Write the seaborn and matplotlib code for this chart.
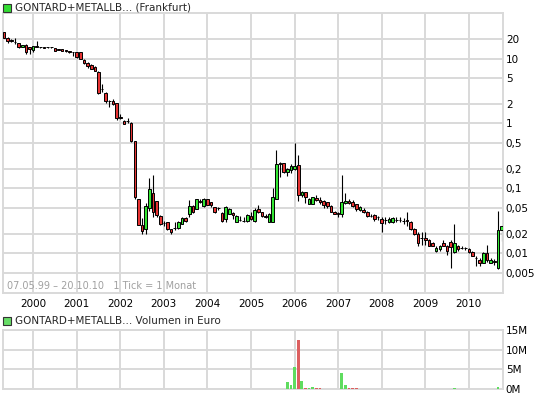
import numpy as np
import pandas as pd
import seaborn as sns
import matplotlib.pyplot as plt
from matplotlib.patches import Rectangle
from matplotlib.ticker import FixedLocator, NullLocator

# monthly candles, May 1999 (index 0) .. Oct 2010 (index 137)
opens = [25.4, 20.9, 19.6, 17.9, 17.4, 15.1, 16.3, 15.0, 13.5, 15.8,
         14.9, 14.8, 15.0, 15.1, 14.4, 13.8, 13.8, 13.3, 13.0, 12.6,
         12.5, 12.5, 9.6, 8.6, 8.0, 7.3, 6.3, 3.45, 2.9, 2.25,
         2.2, 2.08, 1.25, 1.11, 1.1, 1.02, 0.53, 0.069, 0.0277, 0.0235,
         0.05, 0.086, 0.063, 0.038, 0.0295, 0.0305, 0.0235, 0.025, 0.025, 0.0287,
         0.0355, 0.041, 0.054, 0.049, 0.063, 0.054, 0.069, 0.061, 0.051, 0.05,
         0.042, 0.034, 0.041, 0.042, 0.031, 0.033, 0.032, 0.032, 0.038, 0.032,
         0.048, 0.043, 0.038, 0.031, 0.031, 0.069, 0.234, 0.245, 0.18, 0.193,
         0.2, 0.228, 0.079, 0.087, 0.058, 0.058, 0.072, 0.067, 0.065, 0.061,
         0.054, 0.044, 0.0412, 0.041, 0.06, 0.065, 0.061, 0.057, 0.047, 0.047,
         0.044, 0.0382, 0.039, 0.0362, 0.034, 0.0332, 0.030, 0.030, 0.0332, 0.0325,
         0.032, 0.0322, 0.031, 0.024, 0.020, 0.0172, 0.0175, 0.016, 0.0145, 0.011,
         0.0115, 0.0145, 0.013, 0.0152, 0.0104, 0.013, 0.0123, 0.0122, 0.0115, 0.0106,
         0.0086, 0.008, 0.0071, 0.0101, 0.0071, 0.0076, 0.006, 0.023]
closes = [21.0, 18.3, 18.4, 17.7, 15.1, 16.2, 12.6, 13.8, 15.5, 15.0,
          14.8, 14.7, 14.9, 14.9, 13.2, 13.7, 13.1, 12.9, 12.6, 12.4,
          10.4, 9.9, 8.4, 7.7, 6.9, 6.5, 2.9, 3.4, 2.2, 2.2,
          2.0, 1.2, 1.22, 0.99, 1.09, 0.53, 0.073, 0.0277, 0.0224, 0.053,
          0.099, 0.043, 0.0394, 0.0287, 0.029, 0.0235, 0.021, 0.0248, 0.031, 0.0346,
          0.032, 0.054, 0.043, 0.069, 0.0625, 0.069, 0.056, 0.056, 0.043, 0.0495,
          0.032, 0.052, 0.049, 0.039, 0.038, 0.0328, 0.0318, 0.039, 0.034, 0.047,
          0.044, 0.038, 0.036, 0.041, 0.075, 0.234, 0.25, 0.18, 0.198, 0.218,
          0.225, 0.079, 0.087, 0.074, 0.070, 0.073, 0.067, 0.061, 0.056, 0.054,
          0.044, 0.041, 0.041, 0.061, 0.065, 0.059, 0.054, 0.048, 0.052, 0.043,
          0.038, 0.038, 0.034, 0.036, 0.029, 0.033, 0.034, 0.035, 0.033, 0.0322,
          0.0318, 0.032, 0.024, 0.020, 0.0145, 0.0171, 0.016, 0.0132, 0.0132, 0.0122,
          0.013, 0.0132, 0.011, 0.0125, 0.0145, 0.0115, 0.0122, 0.0121, 0.0104, 0.0092,
          0.0085, 0.0071, 0.0101, 0.008, 0.008, 0.0075, 0.023, 0.0266]
highs = [26.0, 21.2, 19.8, 20.5, 17.6, 16.4, 16.5, 15.3, 15.8, 18.3,
         15.2, 15.0, 15.2, 15.3, 14.6, 14.0, 14.0, 13.5, 13.1, 12.8,
         12.6, 12.6, 9.7, 8.8, 8.1, 7.8, 6.4, 4.1, 3.0, 2.3,
         2.35, 2.1, 1.4, 1.12, 1.2, 1.04, 0.54, 0.07, 0.035, 0.06,
         0.144, 0.163, 0.065, 0.039, 0.032, 0.031, 0.024, 0.03, 0.032, 0.036,
         0.036, 0.066, 0.055, 0.07, 0.07, 0.072, 0.07, 0.062, 0.052, 0.051,
         0.043, 0.053, 0.05, 0.043, 0.039, 0.038, 0.036, 0.04, 0.044, 0.05,
         0.055, 0.044, 0.04, 0.042, 0.1, 0.394, 0.26, 0.25, 0.21, 0.24,
         0.498, 0.333, 0.09, 0.089, 0.072, 0.074, 0.08, 0.075, 0.066, 0.062,
         0.055, 0.045, 0.043, 0.16, 0.085, 0.07, 0.066, 0.058, 0.053, 0.05,
         0.045, 0.04, 0.04, 0.038, 0.036, 0.036, 0.036, 0.037, 0.036, 0.037,
         0.035, 0.044, 0.032, 0.025, 0.021, 0.021, 0.021, 0.0165, 0.015, 0.013,
         0.0135, 0.016, 0.0135, 0.016, 0.028, 0.0135, 0.0128, 0.0125, 0.012, 0.011,
         0.009, 0.0085, 0.0105, 0.0135, 0.0085, 0.0082, 0.045, 0.027]
lows = [20.5, 17.4, 18.0, 17.0, 14.6, 15.0, 11.8, 11.7, 12.8, 14.8,
        14.6, 14.5, 14.7, 14.7, 13.0, 13.5, 13.0, 12.6, 12.2, 11.0,
        10.3, 9.8, 8.3, 7.2, 6.8, 6.4, 2.8, 3.0, 2.1, 1.8,
        1.95, 1.15, 1.18, 0.97, 1.0, 0.52, 0.07, 0.027, 0.020, 0.020,
        0.045, 0.037, 0.037, 0.027, 0.026, 0.023, 0.020, 0.023, 0.024, 0.028,
        0.031, 0.036, 0.042, 0.048, 0.06, 0.052, 0.055, 0.052, 0.042, 0.046,
        0.031, 0.031, 0.04, 0.034, 0.03, 0.032, 0.031, 0.031, 0.033, 0.031,
        0.042, 0.037, 0.035, 0.030, 0.030, 0.068, 0.15, 0.17, 0.155, 0.17,
        0.19, 0.065, 0.075, 0.06, 0.057, 0.057, 0.063, 0.057, 0.05, 0.05,
        0.043, 0.040, 0.037, 0.037, 0.058, 0.057, 0.052, 0.045, 0.045, 0.042,
        0.037, 0.036, 0.032, 0.033, 0.021, 0.028, 0.029, 0.029, 0.03, 0.03,
        0.028, 0.026, 0.023, 0.019, 0.013, 0.0135, 0.0135, 0.013, 0.013, 0.0105,
        0.011, 0.013, 0.0095, 0.006, 0.0102, 0.011, 0.0115, 0.0112, 0.0102, 0.009,
        0.0063, 0.0065, 0.007, 0.0075, 0.007, 0.0066, 0.0058, 0.0158]

# volume in million euro (only months with visible bars)
vol_months = [78, 79, 80, 81, 82, 83, 84, 85, 86, 87, 93, 94, 95, 96, 97, 124, 136]
vol_values = [1.9, 1.0, 5.7, 12.5, 2.1, 0.25, 0.25, 0.5, 0.25, 0.25, 4.0, 1.0, 0.25, 0.25, 0.25, 0.3, 0.5]

years = ["2000", "2001", "2002", "2003", "2004", "2005", "2006", "2007", "2008", "2009", "2010"]
year_pos = [8 + 12 * k for k in range(len(years))]
price_ticks = [20, 10, 5, 2, 1, 0.5, 0.2, 0.1, 0.05, 0.02, 0.01, 0.005]
price_labels = ["20", "10", "5", "2", "1", "0,5", "0,2", "0,1", "0,05", "0,02", "0,01", "0,005"]
vol_ticks = [0, 5, 10, 15]
vol_labels = ["0M", "5M", "10M", "15M"]

UP = "#33e633"
DOWN = "#e63333"
VUP = "#5fdc5f"
VDOWN = "#dc5f5f"
GRID = "#d9d9d9"

df = pd.DataFrame({"open": opens, "close": closes, "high": highs, "low": lows})
df["month"] = np.arange(len(df))
df["dir"] = np.where(df["close"] >= df["open"], "up", "down")
df["bottom"] = df[["open", "close"]].min(axis=1)
df["height"] = (df["open"] - df["close"]).abs()

vol = pd.DataFrame({"month": vol_months, "volume": vol_values})
vol["dir"] = df.loc[vol["month"], "dir"].values

sns.set_theme(style="white")
plt.rcParams['font.family'] = ['DejaVu Sans']

W, H = 545, 398
fig = plt.figure(figsize=(W / 100, H / 100), dpi=100)
ax = fig.add_axes([3 / W, 1 - 293 / H, 500 / W, 280 / H])
ax2 = fig.add_axes([3 / W, 1 - 389 / H, 500 / W, 59 / H])

for a in (ax, ax2):
    a.set_xlim(-0.3, 137.4)
    a.xaxis.set_major_locator(FixedLocator(year_pos))
    a.grid(True, color=GRID, lw=1.4)
    a.set_axisbelow(True)
    for s in a.spines.values():
        s.set_color(GRID)
        s.set_linewidth(1.4)
    a.yaxis.tick_right()
    a.tick_params(length=0, labelsize=7.5, colors="black", pad=2)

# candles
ax.set_yscale("log")
ax.set_ylim(0.00246, 50.2)
ax.yaxis.set_major_locator(FixedLocator(price_ticks))
ax.yaxis.set_minor_locator(NullLocator())
ax.set_yticklabels(price_labels)
ax.vlines(df["month"], df["low"], df["high"], color="black", lw=0.8, zorder=2)
ax.bar(df["month"], df["height"], bottom=df["bottom"], width=0.72,
       color=[UP if d == "up" else DOWN for d in df["dir"]],
       edgecolor="black", linewidth=0.7, zorder=3)
ax.set_xticklabels(years)
ax.tick_params(axis="x", pad=4)
ax.set_xlabel("")
ax.set_ylabel("")

# volume
sns.barplot(data=vol, x="month", y="volume", hue="dir", palette={"up": VUP, "down": VDOWN},
            native_scale=True, dodge=False, width=0.75, legend=False, linewidth=0,
            saturation=1, ax=ax2, zorder=3)
ax2.set_xlim(-0.3, 137.4)
ax2.set_ylim(0, 15)
ax2.yaxis.set_major_locator(FixedLocator(vol_ticks))
ax2.set_yticklabels(vol_labels)
ax2.set_xticklabels([])
ax2.set_xlabel("")
ax2.set_ylabel("")

# headers
fig.patches.append(Rectangle((3 / W, 1 - 12 / H), 8 / W, 8 / H, transform=fig.transFigure,
                             facecolor="#33dd33", edgecolor="#333333", lw=0.8))
fig.text(15 / W, 1 - 8 / H, "GONTARD+METALLB... (Frankfurt)", fontsize=7.5, va="center", ha="left")
fig.patches.append(Rectangle((3 / W, 1 - 325 / H), 8 / W, 8 / H, transform=fig.transFigure,
                             facecolor="#66dd66", edgecolor="#333333", lw=0.8))
fig.text(15 / W, 1 - 321 / H, "GONTARD+METALLB... Volumen in Euro", fontsize=7.5, va="center", ha="left")
fig.text(7 / W, 1 - 286 / H, "07.05.99 \u2013 20.10.10   1 Tick = 1 Monat", fontsize=7,
         color="#a0a0a0", va="center", ha="left")

fig.savefig("out.png", dpi=100)
